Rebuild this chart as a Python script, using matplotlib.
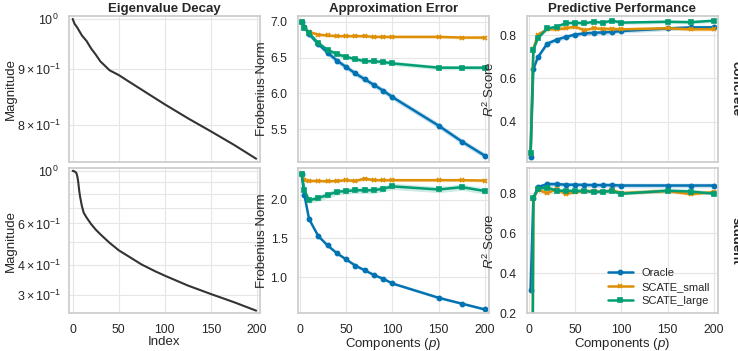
import matplotlib
matplotlib.use("Agg")
import matplotlib.pyplot as plt
import seaborn as sns
import numpy as np

sns.set_theme(style="whitegrid")
plt.rcParams['font.family'] = ['Liberation Sans', 'DejaVu Sans']
plt.rcParams['mathtext.fontset'] = 'custom'
plt.rcParams['mathtext.rm'] = 'Liberation Sans'
plt.rcParams['mathtext.it'] = 'Liberation Sans:italic'
plt.rcParams['mathtext.bf'] = 'Liberation Sans:bold'

# components p
comps = [2, 5, 10, 20, 30, 40, 50, 60, 70, 80, 90, 100, 150, 175, 200]

# eigenvalue decay (normalised)
eig_idx_c = [0, 2, 5, 10, 15, 20, 25, 30, 40, 50, 60, 75, 100, 125, 150, 175, 199]
eig_c = [1.0, 0.99, 0.982, 0.966, 0.955, 0.94, 0.928, 0.915, 0.898, 0.889, 0.878,
         0.862, 0.836, 0.812, 0.790, 0.768, 0.746]
eig_idx_s = [0, 2, 4, 5, 6, 7, 8, 10, 12, 15, 20, 25, 30, 40, 50, 60, 75, 90, 100,
             125, 150, 175, 199]
eig_s = [1.0, 0.995, 0.98, 0.95, 0.90, 0.83, 0.78, 0.71, 0.665, 0.636, 0.596, 0.565,
         0.540, 0.497, 0.462, 0.437, 0.402, 0.376, 0.361, 0.328, 0.302, 0.279, 0.257]

# approximation error (Frobenius norm)
oracle_err_c = [7.00, 6.93, 6.83, 6.69, 6.57, 6.46, 6.37, 6.28, 6.20, 6.12, 6.04, 5.95, 5.55, 5.33, 5.13]
small_err_c = [7.00, 6.92, 6.86, 6.82, 6.81, 6.80, 6.80, 6.80, 6.80, 6.79, 6.79, 6.79, 6.79, 6.78, 6.78]
large_err_c = [7.00, 6.92, 6.84, 6.70, 6.61, 6.55, 6.51, 6.48, 6.45, 6.45, 6.44, 6.42, 6.36, 6.36, 6.36]
oracle_err_s = [2.33, 2.06, 1.75, 1.53, 1.41, 1.31, 1.23, 1.15, 1.09, 1.03, 0.98, 0.92, 0.735, 0.66, 0.585]
small_err_s = [2.33, 2.25, 2.24, 2.24, 2.235, 2.24, 2.25, 2.24, 2.27, 2.25, 2.25, 2.25, 2.25, 2.25, 2.245]
large_err_s = [2.33, 2.12, 1.99, 2.02, 2.06, 2.10, 2.11, 2.12, 2.12, 2.12, 2.14, 2.17, 2.13, 2.16, 2.11]

# predictive performance (R^2)
oracle_r2_c = [0.239, 0.644, 0.699, 0.761, 0.779, 0.792, 0.803, 0.808, 0.811, 0.813, 0.815, 0.819, 0.831, 0.836, 0.836]
small_r2_c = [0.25, 0.738, 0.803, 0.827, 0.827, 0.832, 0.839, 0.823, 0.832, 0.829, 0.829, 0.827, 0.832, 0.827, 0.827]
large_r2_c = [0.255, 0.733, 0.787, 0.831, 0.839, 0.855, 0.858, 0.855, 0.862, 0.858, 0.867, 0.858, 0.862, 0.860, 0.867]
oracle_r2_s = [0.317, 0.775, 0.830, 0.845, 0.845, 0.842, 0.842, 0.841, 0.840, 0.840, 0.840, 0.838, 0.838, 0.838, 0.838]
small_r2_s = [-2.0, 0.771, 0.817, 0.800, 0.820, 0.795, 0.805, 0.810, 0.810, 0.805, 0.815, 0.800, 0.810, 0.795, 0.805]
large_r2_s = [-2.5, 0.775, 0.822, 0.828, 0.812, 0.812, 0.810, 0.812, 0.805, 0.808, 0.810, 0.797, 0.812, 0.808, 0.797]

# spread of the shaded bands (one std)
sd_err_c = [0.04, 0.02, 0.03]
sd_err_s = [0.015, 0.02, 0.04]
sd_r2_c = [0.01, 0.008, 0.008]
sd_r2_s = [0.012, 0.01, 0.01]

methods = ['Oracle', 'SCATE_small', 'SCATE_large']
colors = ['#0173B2', '#DE8F05', '#029E73']
markers = ['o', 'x', 's']
datasets = ['concrete', 'student']

fig, axes = plt.subplots(2, 3, figsize=(7.38, 3.51), dpi=100)
fig.subplots_adjust(left=0.0935, right=0.9725, top=0.954, bottom=0.107,
                    wspace=0.2, hspace=0.045)


def method_panel(ax, series, sds):
    for ys, sd, name, c, m in zip(series, sds, methods, colors, markers):
        ys = np.array(ys)
        ax.fill_between(comps, ys - sd, ys + sd, color=c, alpha=0.2, lw=0)
        ax.plot(comps, ys, color=c, marker=m, ms=3, mew=1.2, lw=1.8, label=name)
    ax.margins(x=0.02, y=0.02)


for r, (idx, ev) in enumerate([(eig_idx_c, eig_c), (eig_idx_s, eig_s)]):
    ax = axes[r, 0]
    ax.plot(idx, ev, color='#333333', lw=1.5)
    ax.set_yscale('log')
    ax.margins(x=0.02, y=0.02)
    ax.grid(True, which='both', color='#e6e6e6', lw=0.8)
    ax.tick_params(which='minor', labelsize=9, pad=1.5)

method_panel(axes[0, 1], [oracle_err_c, small_err_c, large_err_c], sd_err_c)
method_panel(axes[1, 1], [oracle_err_s, small_err_s, large_err_s], sd_err_s)
method_panel(axes[0, 2], [oracle_r2_c, small_r2_c, large_r2_c], sd_r2_c)
method_panel(axes[1, 2], [oracle_r2_s, small_r2_s, large_r2_s], sd_r2_s)
axes[1, 2].set_ylim(0.2, 0.925)

for ax in axes.flat:
    ax.tick_params(which='major', labelsize=8.8, pad=1.5)
    ax.grid(True, color='#e6e6e6', lw=0.8)
    for s in ax.spines.values():
        s.set_color('#cccccc')

for r in range(2):
    axes[r, 0].tick_params(axis='y', which='major', labelsize=9)
    axes[r, 0].set_ylabel('Magnitude', fontsize=9.5, labelpad=0)
    axes[r, 1].set_ylabel('Frobenius Norm', fontsize=9.5, labelpad=2)
    axes[r, 2].set_ylabel(r'$R^2$ Score', fontsize=9.5, labelpad=2)

for c in range(3):
    axes[0, c].set_xticks(np.arange(0, 201, 50))
    axes[0, c].set_xticklabels([])
    axes[1, c].set_xticks(np.arange(0, 201, 50))
axes[1, 0].set_xlabel('Index', fontsize=9.5, labelpad=0)
axes[1, 1].set_xlabel(r'Components ($p$)', fontsize=9.5, labelpad=0)
axes[1, 2].set_xlabel(r'Components ($p$)', fontsize=9.5, labelpad=0)

axes[0, 0].set_title('Eigenvalue Decay', fontsize=9.5, fontweight='bold', pad=3)
axes[0, 1].set_title('Approximation Error', fontsize=9.5, fontweight='bold', pad=3)
axes[0, 2].set_title('Predictive Performance', fontsize=9.5, fontweight='bold', pad=3)

axes[1, 2].legend(loc='lower right', fontsize=8, frameon=False,
                  handlelength=2.2, borderaxespad=0.3, labelspacing=0.35)

for r, name in enumerate(datasets):
    pos = axes[r, 2].get_position()
    fig.text(0.996, (pos.y0 + pos.y1) / 2, name, rotation=270, fontsize=9.5,
             fontweight='bold', ha='center', va='center')

fig.savefig('out.png', dpi=100)
